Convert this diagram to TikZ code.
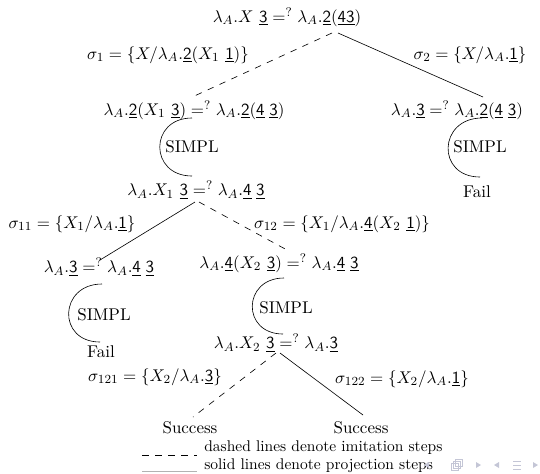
\documentclass[tikz,border=0pt,11pt]{standalone}
\usepackage{amsmath,amssymb}
\usepackage{tikz}
\newcommand{\dbi}[1]{\underline{\mathsf{#1}}}
\newcommand{\unif}{=^{?}}
\definecolor{navgray}{RGB}{196,198,214}
\tikzset{imit/.style={dash pattern=on 4.2pt off 4.2pt},proj/.style={solid},simpl/.style={out=180,in=180,looseness=1.9}}

\begin{document}
\begin{tikzpicture}[x=0.645pt,y=-0.645pt,inner sep=0pt]
\useasboundingbox (0,0) rectangle (540,473);
\node (root) at (287,17) {$\lambda_A.X\ \dbi{3}\unif\lambda_A.\dbi{2}(\dbi{43})$};
\node (s1) at (168,55) {$\sigma_1=\{X/\lambda_A.\dbi{2}(X_1\ \dbi{1})\}$};
\node (s2) at (470,55) {$\sigma_2=\{X/\lambda_A.\dbi{1}\}$};
\node (l1) at (194,110) {$\lambda_A.\dbi{2}(X_1\ \dbi{3})\unif\lambda_A.\dbi{2}(\dbi{4}\;\dbi{3})$};
\node (r1) at (457,110) {$\lambda_A.\dbi{3}\unif\lambda_A.\dbi{2}(\dbi{4}\;\dbi{3})$};
\node (simpl1) at (192,147) {SIMPL};
\node (simpl2) at (480,147) {SIMPL};
\node (fail1) at (477,192) {Fail};
\node (x1) at (196,190) {$\lambda_A.X_1\ \dbi{3}\unif\lambda_A.\dbi{4}\;\dbi{3}$};
\node (s11) at (72,224) {$\sigma_{11}=\{X_1/\lambda_A.\dbi{1}\}$};
\node (s12) at (342,224) {$\sigma_{12}=\{X_1/\lambda_A.\dbi{4}(X_2\ \dbi{1})\}$};
\node (l3) at (99,267) {$\lambda_A.\dbi{3}\unif\lambda_A.\dbi{4}\;\dbi{3}$};
\node (mid) at (279,263) {$\lambda_A.\dbi{4}(X_2\ \dbi{3})\unif\lambda_A.\dbi{4}\;\dbi{3}$};
\node (simpl3) at (104,315) {SIMPL};
\node (simpl4) at (286,308) {SIMPL};
\node (fail2) at (101,352) {Fail};
\node (x2) at (276,343) {$\lambda_A.X_2\ \dbi{3}\unif\lambda_A.\dbi{3}$};
\node (s121) at (155,377) {$\sigma_{121}=\{X_2/\lambda_A.\dbi{3}\}$};
\node (s122) at (402,379) {$\sigma_{122}=\{X_2/\lambda_A.\dbi{1}\}$};
\node (succ1) at (190,428) {Success};
\node (succ2) at (361,428) {Success};
\draw[imit] ([shift={(45,16)}]root.center) -- ([shift={(-4,-12)}]l1.center);
\draw[proj] ([shift={(51,16)}]root.center) -- ([shift={(26,-13)}]r1.center);
\draw[proj] ([shift={(-1,12)}]x1.center) -- ([shift={(1,-7)}]l3.center);
\draw[imit] ([shift={(3,12)}]x1.center) -- ([shift={(8,-13)}]mid.center);
\draw[imit] ([shift={(0,10)}]x2.center) -- ([shift={(3,-11)}]succ1.center);
\draw[proj] ([shift={(4,10)}]x2.center) -- ([shift={(2,-13)}]succ2.center);
\draw ([shift={(-2,8)}]l1.center) to[simpl] ([shift={(-4,-14)}]x1.center);
\draw ([shift={(25,8)}]r1.center) to[simpl] ([shift={(3,-15)}]fail1.center);
\draw ([shift={(3,17)}]l3.center) to[simpl] ([shift={(-1,-10)}]fail2.center);
\draw ([shift={(5,15)}]mid.center) to[simpl] ([shift={(7,-9)}]x2.center);
\node[anchor=west] (key1) at (204,448) {\small dashed lines denote imitation steps};
\node[anchor=west] (key2) at (204,466) {\small solid lines denote projection steps};
\draw[imit] ([shift={(-62,3)}]key1.base west) -- ([shift={(-7,3)}]key1.base west);
\draw[proj,gray!60] ([shift={(-62,2)}]key2.base west) -- ([shift={(-7,2)}]key2.base west);
\fill[navgray] (424,465) -- (429,462) -- (429,468) -- cycle;
\draw[navgray] (451,463) rectangle (458,470) (453,461) rectangle (460,468) (455,459) rectangle (462,466);
\fill[navgray] (481,465) -- (476,462) -- (476,468) -- cycle;
\fill[navgray] (494,465) -- (499,462) -- (499,468) -- cycle;
\draw[navgray] (513,461) -- (521,461) (513,465) -- (521,465) (513,469) -- (521,469);
\fill[navgray] (538,465) -- (533,462) -- (533,468) -- cycle;
\end{tikzpicture}
\end{document}
